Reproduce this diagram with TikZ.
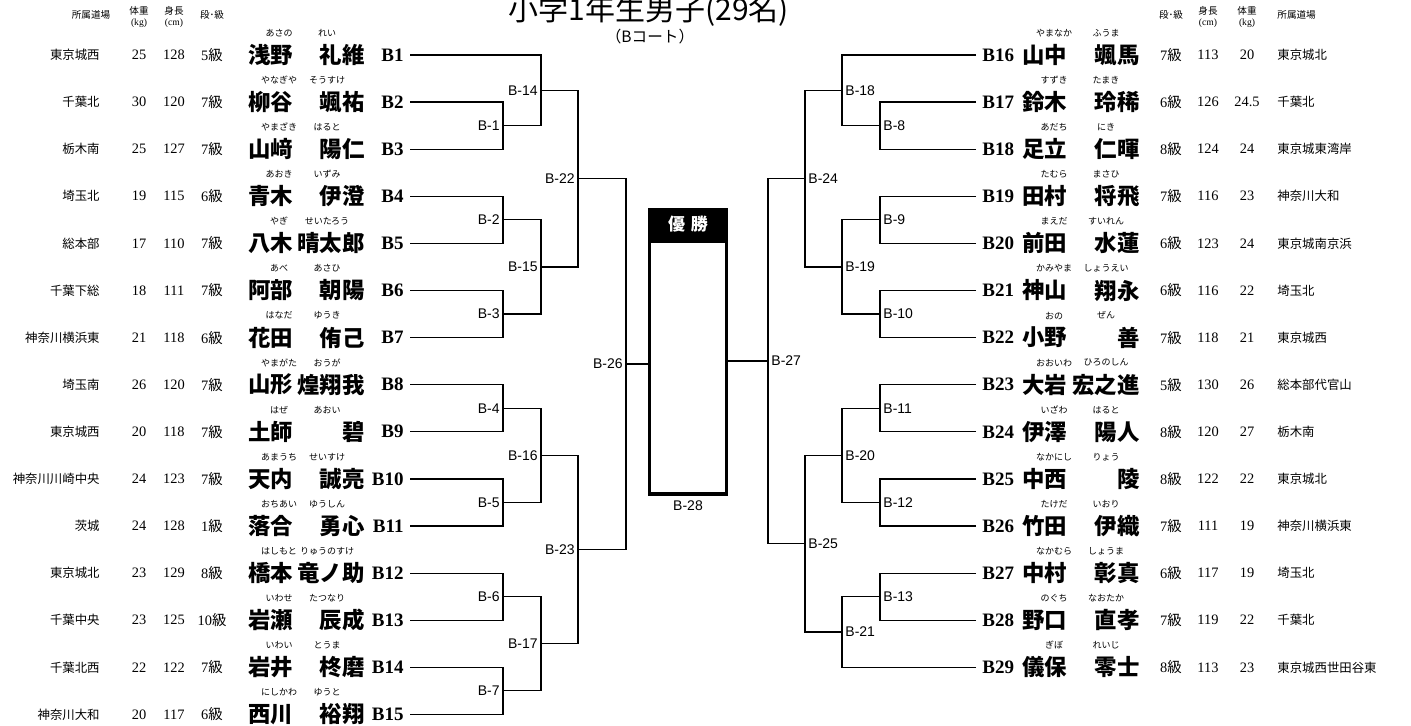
\documentclass[tikz,border=0pt]{standalone}
\usepackage{fontspec}
\usetikzlibrary{calc}
\setmainfont{Liberation Serif}
\newfontfamily\jp{Noto Sans CJK JP}
\newfontfamily\lab{Liberation Sans}
\newcommand{\kyu}{{\jp 級}}

\tikzset{
  wire/.style={line width=0.6pt},
  arm/.style={wire, shorten <=3pt},
  kana/.style={font=\jp\fontsize{4.5}{5}\selectfont, inner sep=0pt},
  pname/.style={font=\jp\bfseries\fontsize{11.2}{12}\selectfont, inner sep=0pt},
  pcode/.style={font=\bfseries\fontsize{9.5}{10}\selectfont, inner sep=0pt},
  pinfo/.style={font=\fontsize{7.2}{8}\selectfont, inner sep=0pt},
  dojo/.style={font=\jp\fontsize{6.2}{7}\selectfont, inner sep=0pt},
  colhead/.style={font=\fontsize{4.8}{5.6}\selectfont, inner sep=0pt, align=center},
  matchlab/.style={font=\lab\fontsize{7}{8}\selectfont, inner sep=1.5pt},
}

\begin{document}
\begin{tikzpicture}[x=0.5pt, y=-0.5pt]
\useasboundingbox (0,0) rectangle (1411,726);

% Title
\node[font=\jp\fontsize{15}{16}\selectfont] (title) at (649,11) {小学1年生男子(29名)};
\node[font=\jp\fontsize{7.8}{8}\selectfont] (court) at (650,37) {（Bコート）};

% Column heads
\node[colhead] (hdL) at (91,15) {\jp 所属道場};
\node[colhead] (hwL) at (139,17) {{\jp 体重}\\(kg)};
\node[colhead] (hhL) at (174,17) {{\jp 身長}\\(cm)};
\node[colhead] (hgL) at (212,15) {\jp 段･級};
\node[colhead] (hgR) at (1171,15) {\jp 段･級};
\node[colhead] (hhR) at (1208,17) {{\jp 身長}\\(cm)};
\node[colhead] (hwR) at (1247,17) {{\jp 体重}\\(kg)};
\node[colhead, anchor=west] (hdR) at (1277,15) {\jp 所属道場};

% Left players
\foreach \i/\club/\kg/\cm/\gr/\fn/\gn/\fk/\gk in {
  1/東京城西/25/128/5/浅野/礼維/あさの/れい,
  2/千葉北/30/120/7/柳谷/颯祐/やなぎや/そうすけ,
  3/栃木南/25/127/7/山﨑/陽仁/やまざき/はると,
  4/埼玉北/19/115/6/青木/伊澄/あおき/いずみ,
  5/総本部/17/110/7/八木/晴太郎/やぎ/せいたろう,
  6/千葉下総/18/111/7/阿部/朝陽/あべ/あさひ,
  7/神奈川横浜東/21/118/6/花田/侑己/はなだ/ゆうき,
  8/埼玉南/26/120/7/山形/煌翔我/やまがた/おうが,
  9/東京城西/20/118/7/土師/碧/はぜ/あおい,
  10/神奈川川崎中央/24/123/7/天内/誠亮/あまうち/せいすけ,
  11/茨城/24/128/1/落合/勇心/おちあい/ゆうしん,
  12/東京城北/23/129/8/橋本/竜ノ助/はしもと/りゅうのすけ,
  13/千葉中央/23/125/10/岩瀬/辰成/いわせ/たつなり,
  14/千葉北西/22/122/7/岩井/柊磨/いわい/とうま,
  15/神奈川大和/20/117/6/西川/裕翔/にしかわ/ゆうと}{
  \pgfmathsetmacro\y{55+(\i-1)*47.1}
  \node[dojo, anchor=east] (d\i) at (100,\y) {\club};
  \node[pinfo] (w\i) at (139,\y) {\kg};
  \node[pinfo] (h\i) at (174,\y) {\cm};
  \node[pinfo] (g\i) at (212,\y) {\gr\kyu};
  \node[pname, anchor=west] (f\i) at (248,\y) {\fn};
  \node[pname, anchor=east] (n\i) at (365,\y) {\gn};
  \node[pcode, anchor=east] (B\i) at (404,\y) {B\i};
  \node[kana] (fk\i) at (279,\y-22) {\fk};
  \node[kana] (gk\i) at (327,\y-22) {\gk};
}

% Right players
\foreach \i/\club/\kg/\cm/\gr/\fn/\gn/\fk/\gk in {
  16/東京城北/20/113/7/山中/颯馬/やまなか/ふうま,
  17/千葉北/24.5/126/6/鈴木/玲稀/すずき/たまき,
  18/東京城東湾岸/24/124/8/足立/仁暉/あだち/にき,
  19/神奈川大和/23/116/7/田村/将飛/たむら/まさひ,
  20/東京城南京浜/24/123/6/前田/水蓮/まえだ/すいれん,
  21/埼玉北/22/116/6/神山/翔永/かみやま/しょうえい,
  22/東京城西/21/118/7/小野/善/おの/ぜん,
  23/総本部代官山/26/130/5/大岩/宏之進/おおいわ/ひろのしん,
  24/栃木南/27/120/8/伊澤/陽人/いざわ/はると,
  25/東京城北/22/122/8/中西/陵/なかにし/りょう,
  26/神奈川横浜東/19/111/7/竹田/伊織/たけだ/いおり,
  27/埼玉北/19/117/6/中村/彰真/なかむら/しょうま,
  28/千葉北/22/119/7/野口/直孝/のぐち/なおたか,
  29/東京城西世田谷東/23/113/8/儀保/零士/ぎぼ/れいじ}{
  \pgfmathsetmacro\y{55+(\i-16)*47.1}
  \node[pcode, anchor=west] (B\i) at (982,\y) {B\i};
  \node[pname, anchor=west] (f\i) at (1022,\y) {\fn};
  \node[pname, anchor=east] (n\i) at (1140,\y) {\gn};
  \node[pinfo] (g\i) at (1171,\y) {\gr\kyu};
  \node[pinfo] (h\i) at (1208,\y) {\cm};
  \node[pinfo] (w\i) at (1247,\y) {\kg};
  \node[dojo, anchor=west] (d\i) at (1277,\y) {\club};
  \node[kana] (fk\i) at (1054,\y-22) {\fk};
  \node[kana] (gk\i) at (1106,\y-22) {\gk};
}

% Match points, left half
\coordinate (M1) at (503,125.65);
\coordinate (M2) at (503,219.85);
\coordinate (M3) at (503,314.05);
\coordinate (M4) at (503,408.25);
\coordinate (M5) at (503,502.45);
\coordinate (M6) at (503,596.65);
\coordinate (M7) at (503,690.85);
\coordinate (M14) at (541,90.3);
\coordinate (M15) at (541,266.95);
\coordinate (M16) at (541,455.35);
\coordinate (M17) at (541,643.75);
\coordinate (M22) at (578,178.6);
\coordinate (M23) at (578,549.55);
\coordinate (M26) at (626,364.1);

% Match points, right half
\coordinate (M8) at (880,125.65);
\coordinate (M9) at (880,219.85);
\coordinate (M10) at (880,314.05);
\coordinate (M11) at (880,408.25);
\coordinate (M12) at (880,502.45);
\coordinate (M13) at (880,596.65);
\coordinate (M18) at (842,90.3);
\coordinate (M19) at (842,266.95);
\coordinate (M20) at (842,455.35);
\coordinate (M21) at (842,631.98);
\coordinate (M24) at (805,178.6);
\coordinate (M25) at (805,543.66);
\coordinate (M27) at (768,361.1);

% Bracket lines
\foreach \p/\m in {B1/M14,B2/M1,B3/M1,B4/M2,B5/M2,B6/M3,B7/M3,B8/M4,B9/M4,
  B10/M5,B11/M5,B12/M6,B13/M6,B14/M7,B15/M7}
  \draw[arm] (\p.east) -| (\m);
\foreach \p/\m in {B16/M18,B17/M8,B18/M8,B19/M9,B20/M9,B21/M10,B22/M10,
  B23/M11,B24/M11,B25/M12,B26/M12,B27/M13,B28/M13,B29/M21}
  \draw[arm] (\p.west) -| (\m);
\foreach \a/\m in {M1/M14,M2/M15,M3/M15,M4/M16,M5/M16,M6/M17,M7/M17,
  M14/M22,M15/M22,M16/M23,M17/M23,M22/M26,M23/M26,
  M8/M18,M9/M19,M10/M19,M11/M20,M12/M20,M13/M21,
  M18/M24,M19/M24,M20/M25,M21/M25,M24/M27,M25/M27}
  \draw[wire] (\a) -| (\m);

% Match labels
\foreach \m in {1,...,7,14,15,16,17,22,23,26}
  \node[matchlab, anchor=east] (L\m) at (M\m) {B-\m};
\foreach \m in {8,...,13,18,19,20,21,24,25,27}
  \node[matchlab, anchor=west] (L\m) at (M\m) {B-\m};

% Winner box
\fill (648,208) rectangle (728,240);
\node[font=\jp\bfseries\fontsize{8.5}{9}\selectfont, text=white] (win) at (688,224) {優\hspace{0.35em}勝};
\node[draw, line width=1.6pt, minimum width=38.5pt, minimum height=126.5pt, inner sep=0pt] (box) at (688,367.5) {};
\node[matchlab] (L28) at (688,506) {B-28};
\draw[wire] (M26) -- (M26 -| box.west);
\draw[wire] (M27) -- (M27 -| box.east);

\end{tikzpicture}
\end{document}
